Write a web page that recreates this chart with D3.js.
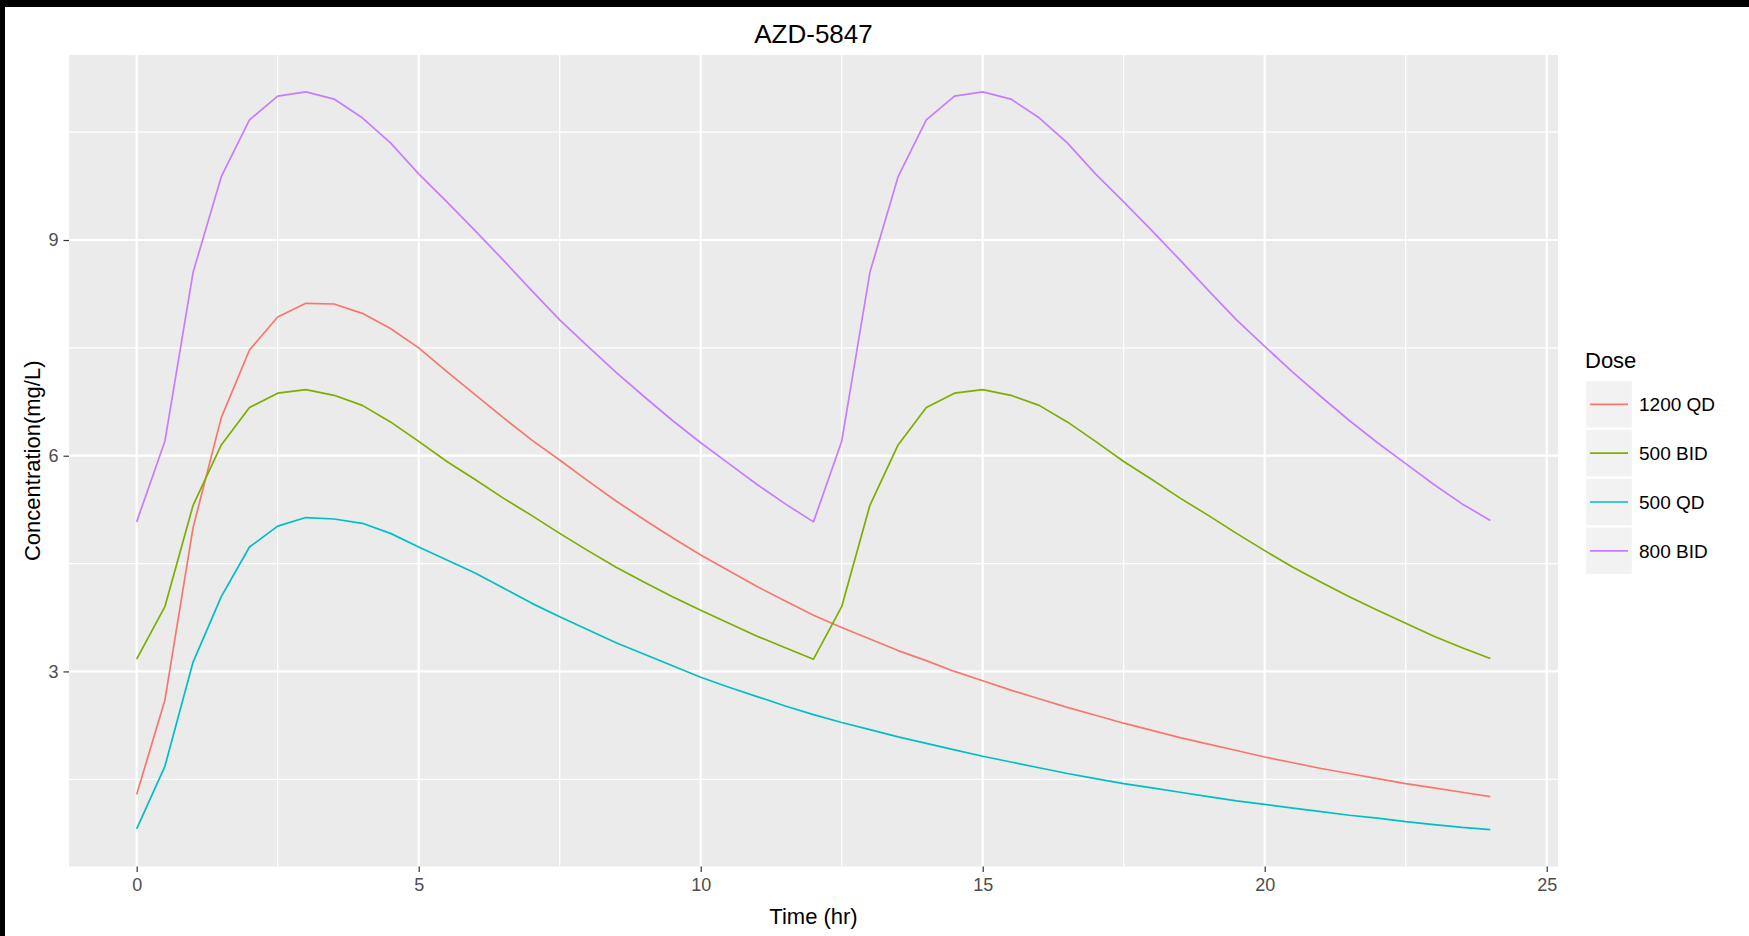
<!DOCTYPE html>
<html>
<head>
<meta charset="utf-8">
<script src="https://cdn.jsdelivr.net/npm/d3@7"></script>
<style>
  body { margin: 0; background: #fff; }
  svg { display: block; font-family: "Liberation Sans", Arial, sans-serif; }
</style>
</head>
<body>
<div id="container"></div>
<script>
(function() {

// Data
let hours = [0, 0.5, 1, 1.5, 2, 2.5, 3, 3.5, 4, 4.5, 5, 5.5, 6, 6.5, 7, 7.5, 8, 8.5, 9, 9.5,
  10, 10.5, 11, 11.5, 12, 12.5, 13, 13.5, 14, 14.5, 15, 15.5, 16, 16.5, 17, 17.5, 18, 18.5,
  19, 19.5, 20, 20.5, 21, 21.5, 22, 22.5, 23, 23.5, 24];

let doses = ["1200 QD", "500 BID", "500 QD", "800 BID"];
let doseColors = ["#F8766D", "#7CAE00", "#00BFC4", "#C77CFF"];

let conc1200QD = [1.29, 2.60, 5.00, 6.53, 7.47, 7.93, 8.12, 8.11, 7.98, 7.77, 7.50, 7.17, 6.85,
  6.53, 6.22, 5.94, 5.65, 5.37, 5.11, 4.86, 4.62, 4.40, 4.18, 3.98, 3.78, 3.61, 3.45, 3.29,
  3.15, 3.00, 2.87, 2.74, 2.62, 2.50, 2.39, 2.28, 2.18, 2.08, 1.99, 1.90, 1.81, 1.73, 1.65,
  1.58, 1.51, 1.44, 1.38, 1.32, 1.26];

let conc500BID = [3.17, 3.90, 5.31, 6.15, 6.67, 6.87, 6.92, 6.84, 6.70, 6.47, 6.20, 5.92, 5.67,
  5.41, 5.17, 4.92, 4.68, 4.45, 4.24, 4.04, 3.85, 3.67, 3.49, 3.33, 3.17, 3.90, 5.31, 6.15,
  6.67, 6.87, 6.92, 6.84, 6.70, 6.47, 6.20, 5.92, 5.67, 5.41, 5.17, 4.92, 4.68, 4.45, 4.24,
  4.04, 3.85, 3.67, 3.49, 3.33, 3.18];

let conc500QD = [0.81, 1.68, 3.13, 4.04, 4.73, 5.02, 5.14, 5.12, 5.06, 4.92, 4.73, 4.55, 4.37,
  4.16, 3.95, 3.76, 3.58, 3.40, 3.24, 3.08, 2.92, 2.78, 2.65, 2.52, 2.40, 2.29, 2.19, 2.09,
  2.00, 1.91, 1.82, 1.74, 1.66, 1.58, 1.51, 1.44, 1.38, 1.32, 1.26, 1.20, 1.15, 1.10, 1.05,
  1.00, 0.96, 0.91, 0.87, 0.83, 0.80];

let conc800BID = [5.08, 6.20, 8.55, 9.88, 10.67, 11.00, 11.06, 10.96, 10.70, 10.35, 9.92, 9.53,
  9.13, 8.72, 8.30, 7.89, 7.52, 7.16, 6.82, 6.49, 6.18, 5.89, 5.60, 5.33, 5.08, 6.20, 8.55,
  9.88, 10.67, 11.00, 11.06, 10.96, 10.70, 10.35, 9.92, 9.53, 9.13, 8.72, 8.30, 7.89, 7.52,
  7.16, 6.82, 6.49, 6.18, 5.89, 5.60, 5.33, 5.10];

let xTicks = [0, 5, 10, 15, 20, 25];
let xMinor = [2.5, 7.5, 12.5, 17.5, 22.5];
let yTicks = [3, 6, 9];
let yMinor = [1.5, 4.5, 7.5, 10.5];

let seriesValues = [conc1200QD, conc500BID, conc500QD, conc800BID];

let width = 1749;
let height = 936;
let panel = { left: 69, right: 1558, top: 55, bottom: 866.5 };

let svg = d3.select("#container")
  .append("svg")
    .attr("width", width)
    .attr("height", height);

svg.append("rect")
  .attr("width", width).attr("height", height)
  .attr("fill", "#ffffff");

// black screenshot edges
svg.append("rect").attr("x", 0).attr("y", 0).attr("width", width).attr("height", 7).attr("fill", "#000");
svg.append("rect").attr("x", 0).attr("y", 0).attr("width", 5).attr("height", height).attr("fill", "#000");

// ggplot style expansion of 5%
let allValues = [].concat(...seriesValues);
let yExt = d3.extent(allValues);
let yPad = (yExt[1] - yExt[0]) * 0.05;
let xExt = d3.extent(hours);
let xPad = (xExt[1] - xExt[0]) * 0.05;

let x = d3.scaleLinear()
  .domain([xExt[0] - xPad, xExt[1] + xPad])
  .range([panel.left, panel.right]);
let y = d3.scaleLinear()
  .domain([yExt[0] - yPad, yExt[1] + yPad])
  .range([panel.bottom, panel.top]);

// panel background
svg.append("rect")
  .attr("x", panel.left).attr("y", panel.top)
  .attr("width", panel.right - panel.left)
  .attr("height", panel.bottom - panel.top)
  .attr("fill", "#EBEBEB");

let grid = svg.append("g");
grid.selectAll(".xminor").data(xMinor).enter().append("line")
  .attr("x1", (d) => x(d)).attr("x2", (d) => x(d))
  .attr("y1", panel.top).attr("y2", panel.bottom)
  .attr("stroke", "#fff").attr("stroke-width", 1.2);
grid.selectAll(".yminor").data(yMinor).enter().append("line")
  .attr("x1", panel.left).attr("x2", panel.right)
  .attr("y1", (d) => y(d)).attr("y2", (d) => y(d))
  .attr("stroke", "#fff").attr("stroke-width", 1.2);
grid.selectAll(".xmajor").data(xTicks).enter().append("line")
  .attr("x1", (d) => x(d)).attr("x2", (d) => x(d))
  .attr("y1", panel.top).attr("y2", panel.bottom)
  .attr("stroke", "#fff").attr("stroke-width", 2.2);
grid.selectAll(".ymajor").data(yTicks).enter().append("line")
  .attr("x1", panel.left).attr("x2", panel.right)
  .attr("y1", (d) => y(d)).attr("y2", (d) => y(d))
  .attr("stroke", "#fff").attr("stroke-width", 2.2);

// Lines
let line = d3.line()
  .x((d) => x(d[0]))
  .y((d) => y(d[1]));

svg.append("g")
  .selectAll("path")
  .data(seriesValues)
  .enter()
  .append("path")
    .attr("d", (vals) => line(vals.map((v, i) => [hours[i], v])))
    .attr("fill", "none")
    .attr("stroke", (d, i) => doseColors[i])
    .attr("stroke-width", 1.7)
    .attr("stroke-linejoin", "round");

// Axes
let xAxis = svg.append("g")
  .attr("transform", "translate(0," + panel.bottom + ")")
  .call(d3.axisBottom(x).tickValues(xTicks).tickSize(5.5).tickPadding(6));
let yAxis = svg.append("g")
  .attr("transform", "translate(" + panel.left + ",0)")
  .call(d3.axisLeft(y).tickValues(yTicks).tickSize(5.5).tickPadding(5));

[xAxis, yAxis].forEach((ax) => {
  ax.select(".domain").remove();
  ax.selectAll(".tick line").attr("stroke", "#333333").attr("stroke-width", 1.2);
  ax.selectAll(".tick text")
    .attr("fill", "#4D4D4D")
    .style("font-size", "18px")
    .style("font-family", "'Liberation Sans', Arial, sans-serif");
});
xAxis.selectAll(".tick text").attr("dy", "0.71em");

// Titles
svg.append("text")
  .attr("x", (panel.left + panel.right) / 2)
  .attr("y", 43)
  .attr("text-anchor", "middle")
  .style("font-size", "26px")
  .attr("fill", "#000")
  .text("AZD-5847");

svg.append("text")
  .attr("x", (panel.left + panel.right) / 2)
  .attr("y", 924)
  .attr("text-anchor", "middle")
  .style("font-size", "22px")
  .attr("fill", "#000")
  .text("Time (hr)");

svg.append("text")
  .attr("transform", "translate(40," + ((panel.top + panel.bottom) / 2) + ") rotate(-90)")
  .attr("text-anchor", "middle")
  .style("font-size", "22px")
  .attr("fill", "#000")
  .text("Concentration(mg/L)");

// Legend
let legend = svg.append("g").attr("transform", "translate(1585,0)");
legend.append("text")
  .attr("x", 0).attr("y", 368)
  .style("font-size", "22px")
  .attr("fill", "#000")
  .text("Dose");

let keyTop = 380;
let keyH = 48.8;
let keys = legend.selectAll(".key")
  .data(doses)
  .enter()
  .append("g")
    .attr("transform", (d, i) => "translate(0," + (keyTop + i * keyH) + ")");
keys.append("rect")
  .attr("x", 0.5).attr("y", 0.5)
  .attr("width", 47).attr("height", keyH - 1)
  .attr("fill", "#F2F2F2")
  .attr("stroke", "#fff").attr("stroke-width", 1.5);
keys.append("line")
  .attr("x1", 5).attr("x2", 43)
  .attr("y1", keyH / 2).attr("y2", keyH / 2)
  .attr("stroke", (d, i) => doseColors[i])
  .attr("stroke-width", 1.7);
keys.append("text")
  .attr("x", 54).attr("y", keyH / 2 + 7)
  .style("font-size", "19px")
  .attr("fill", "#000")
  .text((d) => d);

})();
</script>
</body>
</html>
